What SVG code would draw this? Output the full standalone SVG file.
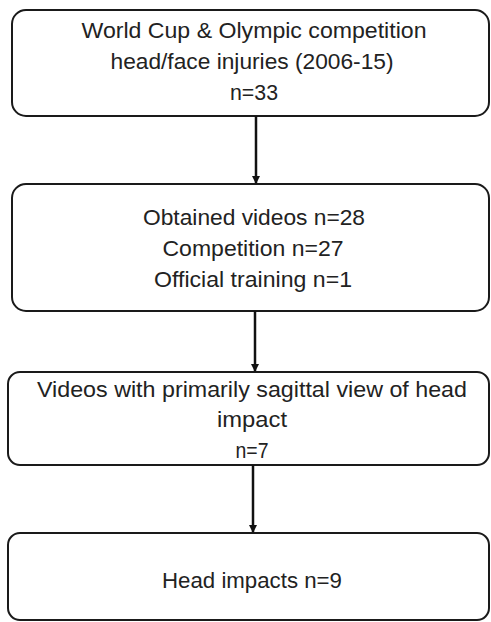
<svg xmlns="http://www.w3.org/2000/svg" width="491" height="622" viewBox="0 0 491 622">
<defs>
<marker id="ah" markerWidth="8" markerHeight="8" refX="7" refY="4" orient="auto" markerUnits="userSpaceOnUse">
<path d="M0,0 L8,4 L0,8 Z" fill="#111"/>
</marker>
<style>
.box{fill:#fff;stroke:#1a1a1a;stroke-width:2}
.t{font-family:"Liberation Sans",Arial,sans-serif;font-size:22px;fill:#222;text-anchor:middle}
.c{stroke:#111;stroke-width:2.5;fill:none}
</style>
</defs>
<rect width="491" height="622" fill="#fff"/>
<g id="n1">
<rect class="box" x="12" y="10" width="477" height="106" rx="14"/>
<text class="t" x="254" y="38" textLength="345" lengthAdjust="spacingAndGlyphs">World Cup &amp; Olympic competition</text>
<text class="t" x="252" y="69" textLength="283" lengthAdjust="spacingAndGlyphs">head/face injuries (2006-15)</text>
<text class="t" x="254" y="100" textLength="48" lengthAdjust="spacingAndGlyphs">n=33</text>
</g>
<g id="n2">
<rect class="box" x="12" y="184" width="477" height="127" rx="14"/>
<text class="t" x="254" y="225" textLength="222" lengthAdjust="spacingAndGlyphs">Obtained videos n=28</text>
<text class="t" x="253" y="256" textLength="181" lengthAdjust="spacingAndGlyphs">Competition n=27</text>
<text class="t" x="253" y="287" textLength="198" lengthAdjust="spacingAndGlyphs">Official training n=1</text>
</g>
<g id="n3">
<rect class="box" x="8" y="372" width="481" height="93" rx="12"/>
<text class="t" x="252" y="397" textLength="430" lengthAdjust="spacingAndGlyphs">Videos with primarily sagittal view of head</text>
<text class="t" x="252" y="427" textLength="70" lengthAdjust="spacingAndGlyphs">impact</text>
<text class="t" x="252" y="458" textLength="33" lengthAdjust="spacingAndGlyphs">n=7</text>
</g>
<g id="n4">
<rect class="box" x="8" y="533" width="481" height="87" rx="12"/>
<text class="t" x="252" y="588" textLength="180" lengthAdjust="spacingAndGlyphs">Head impacts n=9</text>
</g>
<g id="connectors">
<line class="c" x1="256" y1="116" x2="256" y2="183" marker-end="url(#ah)"/>
<line class="c" x1="255" y1="311" x2="255" y2="371" marker-end="url(#ah)"/>
<line class="c" x1="253" y1="465" x2="253" y2="532" marker-end="url(#ah)"/>
</g>
</svg>
